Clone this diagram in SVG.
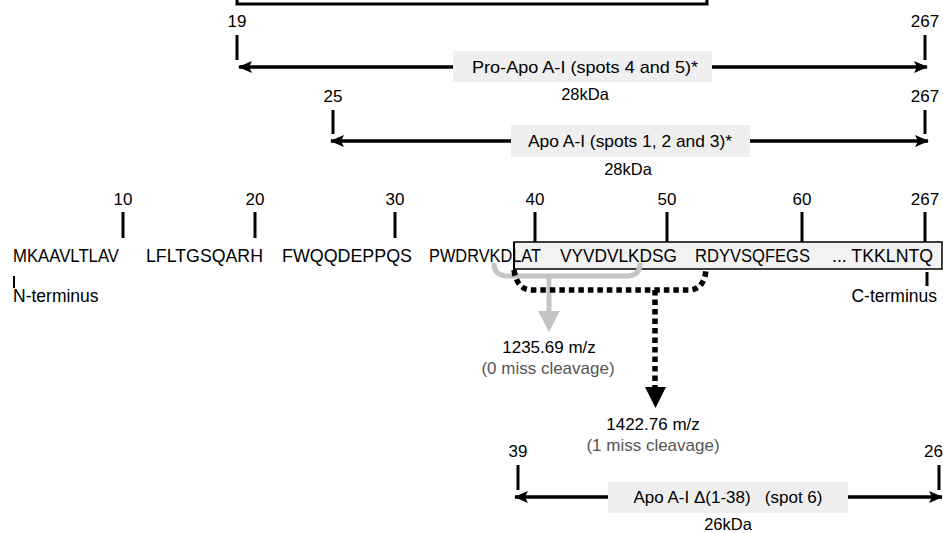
<svg xmlns="http://www.w3.org/2000/svg" width="943" height="533" viewBox="0 0 943 533">
<defs>
<style>
text{font-family:"Liberation Sans",Arial,sans-serif;font-size:17px;fill:#000}
.c{text-anchor:middle}
.g{fill:#555}
.s{font-size:17.5px}
.k{font-size:16.5px}
.tick{stroke:#000;stroke-width:3}
.arr{stroke:#000;stroke-width:3.5;fill:none}
.lbl{fill:#efefef;stroke:none}
</style>
<marker id="ah" markerUnits="userSpaceOnUse" markerWidth="14" markerHeight="12" refX="13" refY="6" orient="auto-start-reverse">
<path d="M0,0 L14,6 L0,12 L3,6 Z" fill="#000"/>
</marker>
</defs>
<g id="topbox">
<path d="M237,-2 L237,4 L707,4 L707,-2" fill="#fff" stroke="#000" stroke-width="3"/>
</g>
<g id="connectors">
<line class="tick" x1="237" y1="35" x2="237" y2="60"/>
<line class="tick" x1="925" y1="35" x2="925" y2="60"/>
<line class="arr" x1="239" y1="67" x2="927" y2="67" marker-start="url(#ah)" marker-end="url(#ah)"/>
<line class="tick" x1="333" y1="110" x2="333" y2="134"/>
<line class="tick" x1="925" y1="110" x2="925" y2="134"/>
<line class="arr" x1="331" y1="141" x2="928" y2="141" marker-start="url(#ah)" marker-end="url(#ah)"/>
<line class="tick" x1="518" y1="465" x2="518" y2="490"/>
<line class="tick" x1="939" y1="465" x2="939" y2="490"/>
<line class="arr" x1="515" y1="497" x2="942" y2="497" marker-start="url(#ah)" marker-end="url(#ah)"/>
<line class="tick" x1="123" y1="212" x2="123" y2="238"/>
<line class="tick" x1="255" y1="212" x2="255" y2="238"/>
<line class="tick" x1="395" y1="212" x2="395" y2="238"/>
<line class="tick" x1="535" y1="212" x2="535" y2="242"/>
<line class="tick" x1="667" y1="212" x2="667" y2="242"/>
<line class="tick" x1="802" y1="212" x2="802" y2="242"/>
<line class="tick" x1="925" y1="212" x2="925" y2="242"/>
<line stroke="#000" stroke-width="2" x1="14" y1="276" x2="14" y2="288"/>
<line stroke="#000" stroke-width="3" x1="927" y1="272" x2="927" y2="286"/>
</g>
<g id="pro-apo">
<rect class="lbl" x="453" y="51" width="259" height="31"/>
<text class="c" x="585" y="73" textLength="226" lengthAdjust="spacingAndGlyphs">Pro-Apo A-I (spots 4 and 5)*</text>
<text class="c" x="237" y="27">19</text>
<text class="c" x="925" y="27">267</text>
<text class="c k" x="585" y="100">28kDa</text>
</g>
<g id="apo">
<rect class="lbl" x="511" y="125" width="239" height="32"/>
<text class="c" x="630" y="147" textLength="204" lengthAdjust="spacingAndGlyphs">Apo A-I (spots 1, 2 and 3)*</text>
<text class="c" x="333" y="102">25</text>
<text class="c" x="925" y="102">267</text>
<text class="c k" x="628" y="175">28kDa</text>
</g>
<g id="sequence">
<rect x="514" y="242" width="428" height="27" fill="#f2f2f2" stroke="#000" stroke-width="1.5"/>
<line stroke="#000" stroke-width="2" x1="514" y1="242" x2="514" y2="273"/>
<text class="c" x="123" y="205">10</text>
<text class="c" x="255" y="205">20</text>
<text class="c" x="395" y="205">30</text>
<text class="c" x="535" y="205">40</text>
<text class="c" x="667" y="205">50</text>
<text class="c" x="802" y="205">60</text>
<text class="c" x="925" y="205">267</text>
<text class="s" x="13" y="262" textLength="106" lengthAdjust="spacingAndGlyphs">MKAAVLTLAV</text>
<text class="s" x="146" y="262" textLength="117" lengthAdjust="spacingAndGlyphs">LFLTGSQARH</text>
<text class="s" x="282" y="262" textLength="130" lengthAdjust="spacingAndGlyphs">FWQQDEPPQS</text>
<text class="s" x="429" y="262" textLength="112" lengthAdjust="spacingAndGlyphs">PWDRVKDLAT</text>
<text class="s" x="560" y="262" textLength="117" lengthAdjust="spacingAndGlyphs">VYVDVLKDSG</text>
<text class="s" x="695" y="262" textLength="115" lengthAdjust="spacingAndGlyphs">RDYVSQFEGS</text>
<text class="s" x="832" y="262" textLength="101" lengthAdjust="spacingAndGlyphs">... TKKLNTQ</text>
<text class="s" x="13" y="302">N-terminus</text>
<text class="s" x="937" y="302" text-anchor="end">C-terminus</text>
</g>
<g id="cleavage0">
<path d="M494,263 Q494,276 508,276 L627,276 Q640,276 640,263" fill="none" stroke="#c4c4c4" stroke-width="5"/>
<line x1="549" y1="276" x2="549" y2="312" stroke="#c4c4c4" stroke-width="5"/>
<path d="M538,311 L560,311 L549,332 Z" fill="#c4c4c4"/>
<text class="c" x="549" y="353">1235.69 m/z</text>
<text class="c g" x="548" y="374">(0 miss cleavage)</text>
</g>
<g id="cleavage1">
<path d="M514,270 Q517,290 532,290 L690,290 Q704,289 706,270" fill="none" stroke="#000" stroke-width="5.5" stroke-dasharray="5.5 4"/>
<line x1="655" y1="290" x2="655" y2="389" stroke="#000" stroke-width="5.5" stroke-dasharray="5.5 4"/>
<path d="M645,387 L666,387 L655.5,408 Z" fill="#000"/>
<text class="c" x="653" y="430">1422.76 m/z</text>
<text class="c g" x="653" y="451">(1 miss cleavage)</text>
</g>
<g id="apo-delta">
<rect class="lbl" x="608" y="482" width="240" height="31"/>
<text class="c" x="728" y="503" xml:space="preserve">Apo A-I Δ(1-38)   (spot 6)</text>
<text class="c" x="518" y="457">39</text>
<text x="943" y="457" text-anchor="end">26</text>
<text class="c k" x="728" y="530">26kDa</text>
</g>
</svg>
